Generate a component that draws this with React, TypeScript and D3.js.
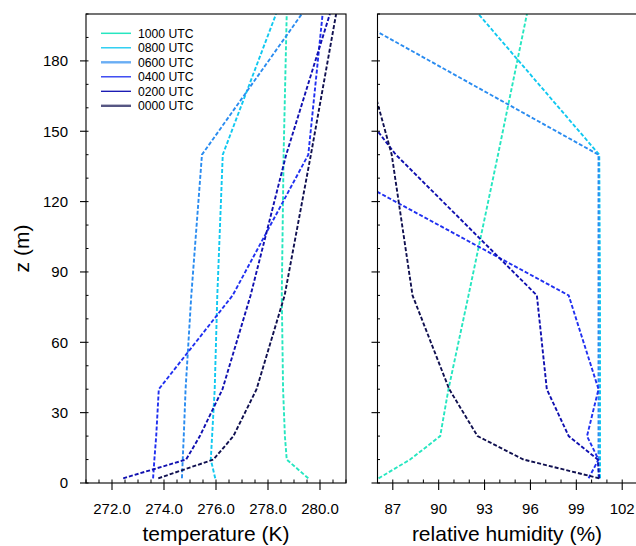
import React from "react";
import * as d3 from "d3";

// heights (m) of the tower levels
const heights = [2, 10, 20, 40, 80, 140, 200];
const timeLabels = ["1000 UTC", "0800 UTC", "0600 UTC", "0400 UTC", "0200 UTC", "0000 UTC"];

// temperature (K)
const temp1000 = [279.55, 278.72, 278.65, 278.58, 278.53, 278.6, 278.72];
const temp0800 = [275.97, 275.8, 275.85, 275.95, 276.05, 276.26, 278.31];
const temp0600 = [274.69, 274.72, 274.76, 274.83, 275.05, 275.46, 279.3];
const temp0400 = [273.58, 273.63, 273.7, 273.8, 276.64, 279.55, 280.1];
const temp0200 = [272.43, 274.85, 275.38, 276.25, 277.33, 278.7, 280.38];
const temp0000 = [273.78, 275.9, 276.67, 277.56, 278.64, 279.65, 280.62];

// relative humidity (%)
const rh1000 = [86.07, 88.13, 90.1, 90.64, 91.95, 93.88, 95.77];
const rh0800 = [100.55, 100.55, 100.55, 100.55, 100.55, 100.5, 92.6];
const rh0600 = [100.45, 100.45, 100.45, 100.45, 100.45, 100.45, 83.9];
const rh0400 = [99.8, 100.45, 99.7, 100.45, 98.5, 81.5, 76.0];
const rh0200 = [100.5, 100.4, 98.5, 97.07, 96.42, 87.2, 80.1];
const rh0000 = [100.5, 95.55, 92.54, 90.69, 88.29, 86.93, 84.4];

const tempSeries = [temp1000, temp0800, temp0600, temp0400, temp0200, temp0000];
const rhSeries = [rh1000, rh0800, rh0600, rh0400, rh0200, rh0000];

const tempTickLabels = ["272.0", "274.0", "276.0", "278.0", "280.0"];
const tempTicks = [272, 274, 276, 278, 280];
const rhTicks = [87, 90, 93, 96, 99, 102];
const zTicks = [0, 30, 60, 90, 120, 150, 180];

const colors = ["#26E6C0", "#10C8F0", "#2A8CF0", "#2030F0", "#1010B0", "#101050"];
const legendWidths = [1.5, 1.3, 2.4, 1.3, 1.3, 2.4];

const FONT = "'Liberation Sans', Arial, Helvetica, sans-serif";

export default function App() {
  const top = 14;
  const bottom = 483;
  const y = d3.scaleLinear().domain([0, 200]).range([bottom, top]);
  const xT = d3.scaleLinear().domain([271, 281]).range([86, 346]);
  const xR = d3.scaleLinear().domain([86, 103]).range([377.5, 637.5]);

  const lineT = (vals: number[]) =>
    d3
      .line<number>()
      .x((d) => xT(d))
      .y((_, i) => y(heights[i]))(vals) || "";
  const lineR = (vals: number[]) =>
    d3
      .line<number>()
      .x((d) => xR(d))
      .y((_, i) => y(heights[i]))(vals) || "";

  const minorZ = d3.range(0, 201, 10);
  const minorT = d3.range(271, 281.01, 0.5);
  const minorR = d3.range(86, 103.01, 1);

  const frame = (x0: number, x1: number) => (
    <rect x={x0} y={top} width={x1 - x0} height={bottom - top} fill="none" stroke="#000" strokeWidth={1.1} />
  );

  const yAxis = (x0: number, labels: boolean) => (
    <g>
      {minorZ.map((v) => (
        <line key={"m" + v} x1={x0} x2={x0 + 2.5} y1={y(v)} y2={y(v)} stroke="#000" strokeWidth={1} />
      ))}
      {zTicks.map((v) => (
        <g key={v}>
          <line x1={x0 - 6} x2={x0} y1={y(v)} y2={y(v)} stroke="#000" strokeWidth={1.1} />
          {labels && (
            <text x={68} y={y(v)} dy="0.36em" textAnchor="end" fontSize={15} fontFamily={FONT} fill="#000">
              {v}
            </text>
          )}
        </g>
      ))}
    </g>
  );

  return (
    <svg
      width={636}
      height={546}
      style={{ position: "absolute", left: 0, top: 0, background: "#fff" }}
    >
      <defs>
        <clipPath id="clipT">
          <rect x={86} y={top} width={260} height={bottom - top} />
        </clipPath>
        <clipPath id="clipR">
          <rect x={377.5} y={top} width={260} height={bottom - top} />
        </clipPath>
      </defs>
      <rect x={0} y={0} width={636} height={546} fill="#fff" />

      {/* left panel: temperature */}
      <g clipPath="url(#clipT)">
        {tempSeries.map((s, i) => (
          <path key={i} d={lineT(s)} fill="none" stroke={colors[i]} strokeWidth={1.9} strokeDasharray="4 2" />
        ))}
      </g>
      {frame(86, 346)}
      {yAxis(86, true)}
      {minorT.map((v) => (
        <line key={"mt" + v} x1={xT(v)} x2={xT(v)} y1={bottom} y2={bottom - 3.5} stroke="#000" strokeWidth={1} />
      ))}
      {tempTicks.map((v, i) => (
        <g key={"t" + v}>
          <line x1={xT(v)} x2={xT(v)} y1={bottom} y2={bottom + 7} stroke="#000" strokeWidth={1.1} />
          <text x={xT(v)} y={514} textAnchor="middle" fontSize={15} fontFamily={FONT} fill="#000">
            {tempTickLabels[i]}
          </text>
        </g>
      ))}
      <text x={216} y={541} textAnchor="middle" fontSize={21} fontFamily={FONT} fill="#000">
        temperature (K)
      </text>
      <text
        transform={`translate(29, ${(top + bottom) / 2}) rotate(-90)`}
        textAnchor="middle"
        fontSize={21}
        fontFamily={FONT}
        fill="#000"
      >
        z (m)
      </text>

      {/* legend */}
      {timeLabels.map((lab, i) => {
        const ly = 33.3 + i * 14.5;
        return (
          <g key={lab}>
            <line x1={101} x2={131} y1={ly} y2={ly} stroke={colors[i]} strokeWidth={legendWidths[i]} opacity={i === 5 || i === 2 ? 0.7 : 1} />
            <text x={138} y={ly} dy="0.36em" fontSize={12.2} fontFamily={FONT} fill="#000">
              {lab}
            </text>
          </g>
        );
      })}

      {/* right panel: relative humidity */}
      <g clipPath="url(#clipR)">
        {rhSeries.map((s, i) => (
          <path key={i} d={lineR(s)} fill="none" stroke={colors[i]} strokeWidth={1.9} strokeDasharray="4 2" />
        ))}
      </g>
      {frame(377.5, 637.5)}
      {yAxis(377.5, false)}
      {minorR.map((v) => (
        <line key={"mr" + v} x1={xR(v)} x2={xR(v)} y1={bottom} y2={bottom - 3.5} stroke="#000" strokeWidth={1} />
      ))}
      {rhTicks.map((v) => (
        <g key={"r" + v}>
          <line x1={xR(v)} x2={xR(v)} y1={bottom} y2={bottom + 7} stroke="#000" strokeWidth={1.1} />
          <text x={xR(v)} y={514} textAnchor="middle" fontSize={15} fontFamily={FONT} fill="#000">
            {v}
          </text>
        </g>
      ))}
      <text x={507} y={541} textAnchor="middle" fontSize={21} fontFamily={FONT} fill="#000">
        relative humidity (%)
      </text>
    </svg>
  );
}
